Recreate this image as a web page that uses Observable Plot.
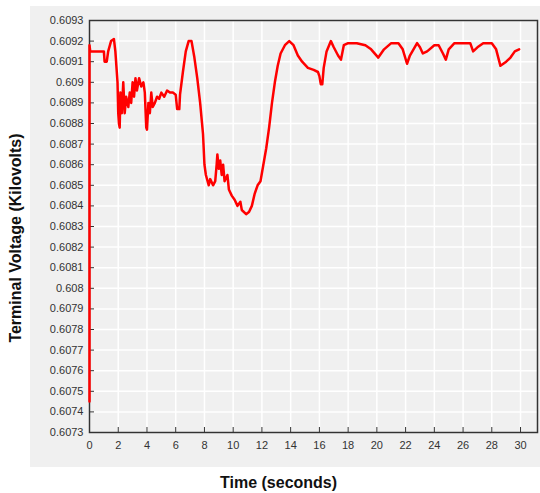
<!DOCTYPE html>
<html><head><meta charset="utf-8">
<script src="https://cdn.jsdelivr.net/npm/d3@7"></script>
<script src="https://cdn.jsdelivr.net/npm/@observablehq/plot@0.6"></script>
<style>
body{margin:0;background:#fff;font-family:"Liberation Sans",Arial,sans-serif}
#wrap{position:relative;width:540px;height:493px}
#panel{position:absolute;left:30px;top:6px;width:510px;height:461px;background:#f0f0f0}
#chart{position:absolute;left:0;top:0}
.t{position:absolute;font-weight:bold;font-size:16px;color:#111;white-space:nowrap}
</style></head><body>
<div id="wrap"><div id="panel"></div><div id="chart"></div>
<div class="t" style="left:220px;top:474px">Time (seconds)</div>
<div class="t" style="left:16px;top:238px;transform:translate(-50%,-50%) rotate(-90deg)">Terminal Voltage (Kilovolts)</div>
</div>
<script>
const time = [0,0,0.05,1.0,1.05,1.2,1.3,1.5,1.7,1.8,1.95,2.0,2.05,2.1,2.15,2.25,2.35,2.45,2.55,2.7,2.8,2.9,3.0,3.1,3.2,3.3,3.45,3.6,3.75,3.85,3.95,4.0,4.1,4.2,4.3,4.4,4.55,4.7,4.85,5.0,5.2,5.4,5.6,5.8,6.0,6.1,6.25,6.3,6.5,6.7,6.9,7.1,7.3,7.5,7.7,7.9,8.0,8.1,8.3,8.4,8.6,8.75,8.85,8.9,9.0,9.1,9.2,9.3,9.4,9.6,9.7,9.9,10.1,10.3,10.5,10.6,10.9,11.1,11.3,11.5,11.7,11.9,12.1,12.3,12.5,12.7,12.9,13.1,13.3,13.6,13.9,14.2,14.5,14.8,15.2,15.6,15.9,16.0,16.1,16.2,16.3,16.5,16.8,17.0,17.3,17.5,17.7,18.0,18.6,19.2,19.6,20.1,20.5,21.0,21.5,21.8,22.1,22.3,22.8,23.0,23.2,23.5,24.0,24.3,24.6,24.8,25.0,25.4,26.0,26.5,26.7,27.0,27.4,28.0,28.3,28.6,28.8,29.0,29.3,29.6,29.9];
const voltage = [0.60745,0.60918,0.60915,0.60915,0.6091,0.6091,0.60915,0.6092,0.60921,0.60915,0.609,0.60885,0.6088,0.60878,0.60895,0.60885,0.609,0.60885,0.60893,0.60888,0.60895,0.6089,0.609,0.60893,0.60902,0.60896,0.60902,0.60898,0.609,0.60895,0.60878,0.60877,0.6089,0.60885,0.60895,0.60888,0.6089,0.60893,0.60892,0.60895,0.60893,0.60896,0.60895,0.60895,0.60894,0.60887,0.60887,0.60894,0.60905,0.60915,0.6092,0.6092,0.60912,0.60902,0.6089,0.60875,0.6086,0.60855,0.6085,0.60853,0.6085,0.60852,0.6086,0.60865,0.60858,0.60862,0.60855,0.6086,0.60852,0.60855,0.60848,0.60845,0.60843,0.6084,0.60842,0.60838,0.60836,0.60837,0.6084,0.60846,0.6085,0.60852,0.6086,0.60868,0.60878,0.6089,0.609,0.60908,0.60914,0.60918,0.6092,0.60918,0.60913,0.6091,0.60907,0.60906,0.60905,0.60903,0.60899,0.60899,0.60907,0.60915,0.6092,0.60917,0.60913,0.60911,0.60918,0.60919,0.60919,0.60918,0.60916,0.60912,0.60916,0.60919,0.60919,0.60916,0.60909,0.60913,0.60919,0.60917,0.60914,0.60915,0.60918,0.60918,0.60914,0.60911,0.60916,0.60919,0.60919,0.60919,0.60915,0.60917,0.60919,0.60919,0.60916,0.60908,0.60909,0.6091,0.60912,0.60915,0.60916];
const xTicks = d3.range(0, 31, 2);
const yTicks = d3.range(0, 21).map(i => +(0.6073 + i * 0.0001).toFixed(4));
const data = time.map((t, i) => ({t, v: voltage[i]}));
const chart = Plot.plot({
  width: 540, height: 493,
  marginLeft: 89, marginRight: 3, marginTop: 20, marginBottom: 61,
  style: {background: "transparent", fontFamily: "Liberation Sans, Arial, sans-serif", fontSize: "11px", color: "#333"},
  x: {domain: [0, 31.18], label: null},
  y: {domain: [0.6073, 0.6093], label: null},
  marks: [
    Plot.frame({fill: "#f0f0f0"}),
    Plot.gridX(xTicks, {stroke: "#fff", strokeOpacity: 1, strokeWidth: 1.5}),
    Plot.gridY(yTicks, {stroke: "#fff", strokeOpacity: 1, strokeWidth: 1.5}),
    Plot.frame({stroke: "#333", strokeWidth: 1.5}),
    Plot.axisX(xTicks, {tickSize: -5, tickPadding: 14, tickFormat: d => d}),
    Plot.axisY(yTicks, {tickSize: -5, tickPadding: 11, tickFormat: d => String(+d.toFixed(4))}),
    Plot.line(data, {x: "t", y: "v", stroke: "#ff0000", strokeWidth: 2.5})
  ]
});
document.getElementById("chart").append(chart);
</script></body></html>
